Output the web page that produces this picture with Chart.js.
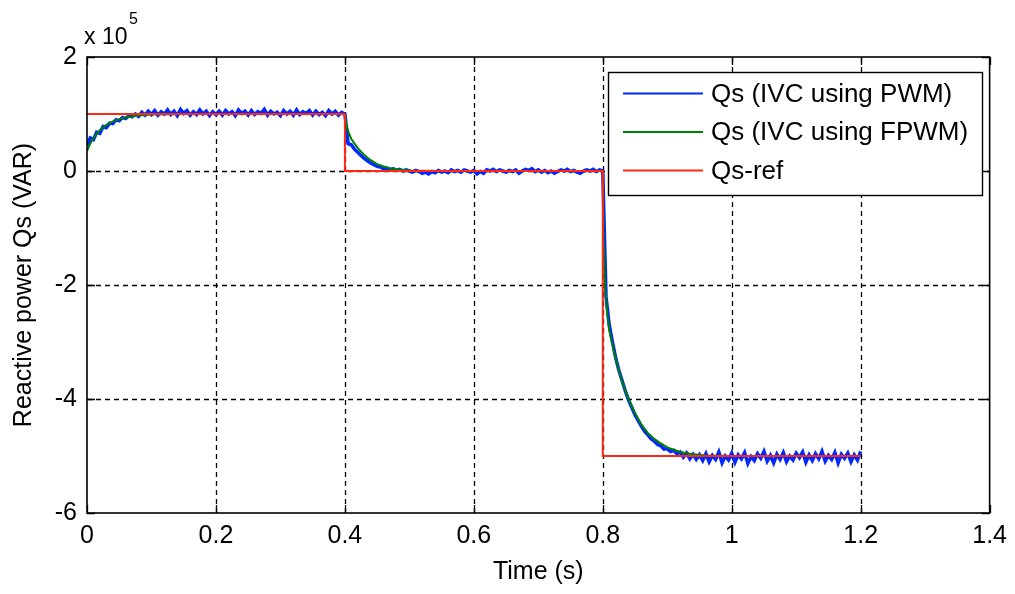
<!DOCTYPE html>
<html><head><meta charset="utf-8">
<script src="https://cdn.jsdelivr.net/npm/chart.js@4/dist/chart.umd.min.js"></script>
<style>html,body{margin:0;padding:0;background:#fff}#wrap{width:1015px;height:594px;position:relative}</style>
</head><body><div id="wrap"><canvas id="c"></canvas></div>
<script>
// ---- data (reactive power in units of 1e5 VAR, time in s) ----
const xTickValues = [0, 0.2, 0.4, 0.6, 0.8, 1.0, 1.2, 1.4];
const xTickLabels = ['0', '0.2', '0.4', '0.6', '0.8', '1', '1.2', '1.4'];
const yTickValues = [-6, -4, -2, 0, 2];
const yTickLabels = ['-6', '-4', '-2', '0', '2'];
const seriesNames = ['Qs (IVC using PWM)', 'Qs (IVC using FPWM)', 'Qs-ref'];
const xTitle = 'Time (s)';
const yTitle = 'Reactive power Qs (VAR)';
const exponentBase = 'x 10';
const exponentPow = '5';

const sampleStep = 0.005;
const pwmSeg1Start = 0;
const pwmSeg1 = [
 0.45,0.58,0.55,0.68,0.66,0.78,0.76,0.84,0.83,0.90,
 0.88,0.94,0.92,0.97,0.95,1.00,0.96,1.03,0.98,1.05,
 0.99,1.06,0.98,1.04,1.00,1.07,0.99,1.05,0.97,1.08,
 1.01,1.06,0.98,1.04,0.99,1.07,1.00,1.05,0.97,1.04,
 0.99,
 1.05,0.98,1.06,1.00,1.04,0.97,1.07,1.01,1.05,0.98,
 1.06,0.99,1.04,1.01,1.08,0.98,1.05,1.00,1.03,0.97,
 1.06,1.00,1.05,0.98,1.07,0.99,1.04,1.01,1.06,0.98,
 1.05,0.99,1.03,0.97,1.06,1.00,1.05,0.98,1.03
];
const pwmSeg2Start = 0.4;
const pwmSeg2 = [
 1.00,0.48,0.46,0.38,0.33,0.27,0.22,0.18,0.14,0.11,
 0.08,0.07,0.04,0.05,0.02,0.04,0.01,0.03,0.00,0.02,
 0.00,-0.02,0.01,-0.01,-0.04,-0.02,-0.05,-0.01,-0.03,0.01,
 -0.02,0.00,-0.03,0.02,-0.01,0.01,-0.02,0.02,0.00,-0.02,
 0.01,-0.05,-0.01,-0.04,0.02,0.00,0.03,-0.01,0.02,0.00,
 -0.02,0.01,-0.01,0.02,-0.04,0.00,0.03,0.01,0.04,-0.01,
 0.02,-0.02,0.01,-0.03,0.00,-0.04,-0.01,0.02,0.00,0.03,
 -0.01,0.01,-0.02,-0.04,0.00,0.02,0.00,0.03,-0.01,0.02,
 0.00
];
const pwmSeg3Start = 0.805;
const pwmSeg3 = [
 -2.20,-2.70,-3.00,-3.28,-3.50,-3.68,-3.86,-4.02,-4.15,-4.28,
 -4.38,-4.48,-4.57,-4.63,-4.70,-4.74,-4.80,-4.82,-4.88,-4.87,
 -4.92,-4.90,-4.96,-4.93,-5.02,-4.95,-5.05,-4.97,-5.06,-4.98,
 -5.08,-4.96,-5.10,-4.99,-5.06,-4.93,-5.12,-5.00,-5.07,-4.95,
 -5.11,-4.98,-5.05,-4.94,-5.13,-5.01,-5.08,-4.96,-5.04,-4.92,
 -5.09,-4.99,-5.12,-4.97,-5.06,-4.94,-5.10,-5.00,-5.07,-4.95,
 -5.03,-4.93,-5.11,-4.98,-5.08,-4.96,-5.05,-4.92,-5.09,-4.99,
 -5.06,-4.94,-5.12,-4.97,-5.04,-4.95,-5.10,-4.98,-5.07,-4.92
];
const fpwmTime = [0,0.005,0.01,0.02,0.03,0.04,0.05,0.06,0.07,0.08,0.1,0.15,0.2,0.25,0.3,0.35,0.4,
 0.401,0.405,0.41,0.42,0.43,0.44,0.45,0.46,0.47,0.48,0.5,0.55,0.6,0.65,0.7,0.75,0.8,
 0.801,0.803,0.806,0.81,0.82,0.83,0.84,0.85,0.86,0.87,0.88,0.89,0.9,0.92,0.94,0.96,1.0,1.1,1.2];
const fpwmValue = [0.35,0.48,0.58,0.72,0.81,0.87,0.91,0.94,0.96,0.975,0.99,1.0,1.0,1.0,1.0,1.0,1.0,
 0.88,0.70,0.56,0.40,0.28,0.19,0.12,0.08,0.05,0.03,0.01,0.0,0.0,0.0,0.0,0.0,0.0,
 -1.09,-1.9,-2.4,-2.8,-3.3,-3.7,-4.0,-4.25,-4.45,-4.6,-4.7,-4.78,-4.85,-4.93,-4.97,-4.99,-5.0,-5.0,-5.0];
const refTime = [0, 0.4, 0.4, 0.8, 0.8, 1.2];
const refValue = [1, 1, 0, 0, -5, -5];

// ---- build ----
const segPts = (start, arr) => arr.map((v, i) => ({x: +(start + i * sampleStep).toFixed(4), y: v}));
const pwmPts = [].concat(segPts(pwmSeg1Start, pwmSeg1), segPts(pwmSeg2Start, pwmSeg2), segPts(pwmSeg3Start, pwmSeg3));
const fpwmPts = fpwmTime.map((t, i) => ({x: t, y: fpwmValue[i]}));
const refPts = refTime.map((t, i) => ({x: t, y: refValue[i]}));

const FONT = '"Liberation Sans", Arial, Helvetica, sans-serif';
const colors = ['rgb(0,40,255)', 'rgb(0,128,0)', 'rgb(255,40,20)'];

const matlabPlugin = {
  id: 'matlab',
  beforeDatasetsDraw(chart) {
    const {ctx, chartArea: a, scales: {x, y}} = chart;
    ctx.save();
    ctx.strokeStyle = '#000';
    ctx.lineWidth = 1.3;
    ctx.setLineDash([5, 4]);
    xTickValues.forEach(v => {
      const px = Math.round(x.getPixelForValue(v)) + 0.5;
      if (px < a.left + 2 || px > a.right - 2) return;
      ctx.beginPath(); ctx.moveTo(px, a.bottom); ctx.lineTo(px, a.top); ctx.stroke();
    });
    yTickValues.forEach(v => {
      const py = Math.round(y.getPixelForValue(v)) + 0.5;
      if (py < a.top + 2 || py > a.bottom - 2) return;
      ctx.beginPath(); ctx.moveTo(a.left, py); ctx.lineTo(a.right, py); ctx.stroke();
    });
    ctx.restore();
  },
  afterDatasetsDraw(chart) {
    const {ctx, chartArea: a, scales: {x, y}} = chart;
    ctx.save();
    ctx.setLineDash([]);
    ctx.strokeStyle = '#000';
    ctx.lineWidth = 1.6;
    ctx.strokeRect(a.left, a.top, a.right - a.left, a.bottom - a.top);
    ctx.lineWidth = 1.3;
    const tl = 8;
    xTickValues.forEach(v => {
      const px = Math.round(x.getPixelForValue(v)) + 0.5;
      ctx.beginPath();
      ctx.moveTo(px, a.bottom); ctx.lineTo(px, a.bottom - tl);
      ctx.moveTo(px, a.top); ctx.lineTo(px, a.top + tl);
      ctx.stroke();
    });
    yTickValues.forEach(v => {
      const py = Math.round(y.getPixelForValue(v)) + 0.5;
      ctx.beginPath();
      ctx.moveTo(a.left, py); ctx.lineTo(a.left + tl, py);
      ctx.moveTo(a.right, py); ctx.lineTo(a.right - tl, py);
      ctx.stroke();
    });
    // legend box
    const lx = 608, ly = 72, lw = 374, lh = 123;
    ctx.fillStyle = '#fff';
    ctx.fillRect(lx, ly, lw, lh);
    ctx.lineWidth = 1.4;
    ctx.strokeRect(lx + 0.5, ly + 0.5, lw, lh);
    ctx.font = '26px ' + FONT;
    ctx.textBaseline = 'middle';
    ctx.textAlign = 'left';
    chart.data.datasets.forEach((ds, i) => {
      const rowY = 93.5 + i * 38.5;
      ctx.strokeStyle = ds.borderColor;
      ctx.lineWidth = 2;
      ctx.beginPath(); ctx.moveTo(623, rowY); ctx.lineTo(703, rowY); ctx.stroke();
      ctx.fillStyle = '#000';
      ctx.fillText(ds.label, 711, rowY + 1);
    });
    // exponent
    ctx.fillStyle = '#000';
    ctx.textBaseline = 'alphabetic';
    ctx.font = '23px ' + FONT;
    ctx.fillText(exponentBase, 84, 44);
    ctx.font = '16px ' + FONT;
    ctx.fillText(exponentPow, 129, 24);
    ctx.restore();
  }
};

new Chart(document.getElementById('c'), {
  type: 'line',
  data: {
    datasets: [
      {label: seriesNames[0], data: pwmPts, borderColor: colors[0], borderWidth: 3.5, order: 3},
      {label: seriesNames[1], data: fpwmPts, borderColor: colors[1], borderWidth: 2, order: 2},
      {label: seriesNames[2], data: refPts, borderColor: colors[2], borderWidth: 2, order: 1}
    ]
  },
  options: {
    responsive: true,
    maintainAspectRatio: false,
    animation: false,
    devicePixelRatio: 1,
    parsing: true,
    elements: {point: {radius: 0}, line: {tension: 0, fill: false}},
    layout: {padding: {left: 0, top: 57, right: 24, bottom: 0}},
    plugins: {legend: {display: false}, tooltip: {enabled: false}, title: {display: false}},
    scales: {
      x: {
        type: 'linear', min: 0, max: 1.4,
        afterBuildTicks: s => { s.ticks = xTickValues.map(v => ({value: v})); },
        afterFit: s => { s.height = 81; },
        grid: {display: false, drawTicks: false},
        border: {display: false},
        ticks: {
          autoSkip: false, maxRotation: 0, padding: 8, color: '#000',
          font: {family: FONT, size: 25},
          callback: (v, i) => xTickLabels[i]
        },
        title: {display: true, text: xTitle, color: '#000', font: {family: FONT, size: 25}, padding: {top: 0, bottom: 7}}
      },
      y: {
        type: 'linear', min: -6, max: 2,
        afterBuildTicks: s => { s.ticks = yTickValues.map(v => ({value: v})); },
        afterFit: s => { s.width = 87; },
        grid: {display: false, drawTicks: false},
        border: {display: false},
        ticks: {
          autoSkip: false, padding: 10, color: '#000',
          font: {family: FONT, size: 25},
          callback: (v, i) => yTickLabels[i]
        },
        title: {display: true, text: yTitle, color: '#000', font: {family: FONT, size: 25}, padding: {top: 9, bottom: 0}}
      }
    }
  },
  plugins: [matlabPlugin]
});
</script></body></html>
